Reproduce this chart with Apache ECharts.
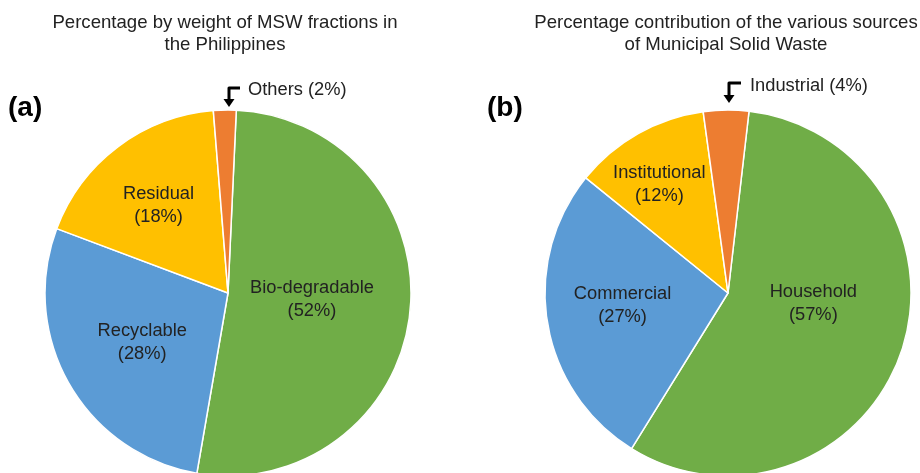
<!DOCTYPE html>
<html>
<head>
<meta charset="utf-8">
<script src="https://cdn.jsdelivr.net/npm/echarts@6/dist/echarts.min.js"></script>
<style>
html,body{margin:0;padding:0;background:#fff;}
#c{width:920px;height:473px;}
</style>
</head>
<body>
<div id="c"></div>
<script>
// ---- data ----
var namesA = ['Bio-degradable', 'Recyclable', 'Residual', 'Others'];
var valuesA = [52, 28, 18, 2];
var namesB = ['Household', 'Commercial', 'Institutional', 'Industrial'];
var valuesB = [57, 27, 12, 4];
var titleA = 'Percentage by weight of MSW fractions in\nthe Philippines';
var titleB = 'Percentage contribution of the various sources\nof Municipal Solid Waste';
var panelA = '(a)';
var panelB = '(b)';

// ---- style ----
var colors = ['#70AD47', '#5B9BD5', '#FFC000', '#ED7D31'];
var FONT = '"Liberation Sans", Arial, sans-serif';
var TXT = '#222';
var R = 183;
var cA = [228, 293], cB = [728, 293];
// label placement: radial distance ratio and angular shift (deg, clockwise)
var ratiosA = [0.46, 0.54, 0.61, 0.5];
var shiftA = [-2, 0, -1.5, 0];
var ratiosB = [0.47, 0.58, 0.70, 0.5];
var shiftB = [-12, 3, -3, 0];

function buildData(names, values) {
  return names.map(function (n, i) {
    var d = { name: n, value: values[i], itemStyle: { color: colors[i] } };
    if (i === names.length - 1) d.label = { show: false };
    return d;
  });
}
function mkLayout(center, ratios, shifts) {
  return function (p) {
    var r = p.labelRect;
    var lx = r.x + r.width / 2, ly = r.y + r.height / 2;
    var vx = lx - center[0], vy = ly - center[1];
    var a = Math.atan2(vy, vx) + shifts[p.dataIndex] * Math.PI / 180;
    var t = ratios[p.dataIndex] * R;
    var tx = center[0] + t * Math.cos(a), ty = center[1] + t * Math.sin(a);
    return { dx: tx - lx, dy: ty - ly };
  };
}
var labelCfg = {
  show: true, position: 'inside', formatter: '{b}\n({c}%)',
  color: TXT, fontFamily: FONT, fontSize: 18.3, lineHeight: 23, align: 'center'
};

var chart = echarts.init(document.getElementById('c'), null, { renderer: 'canvas' });
chart.setOption({
  animation: false,
  backgroundColor: '#fff',
  title: [
    { text: titleA, left: 225, top: 12, textAlign: 'center', padding: 0,
      textStyle: { fontFamily: FONT, fontSize: 18.6, fontWeight: 'normal', color: TXT, lineHeight: 22 } },
    { text: titleB, left: 726, top: 12, textAlign: 'center', padding: 0,
      textStyle: { fontFamily: FONT, fontSize: 18.6, fontWeight: 'normal', color: TXT, lineHeight: 22 } }
  ],
  series: [
    { type: 'pie', center: cA, radius: R, startAngle: 87.4, clockwise: true,
      silent: true, label: labelCfg, labelLine: { show: false },
      labelLayout: mkLayout(cA, ratiosA, shiftA),
      itemStyle: { borderColor: '#fff', borderWidth: 1.5 },
      data: buildData(namesA, valuesA) },
    { type: 'pie', center: cB, radius: R, startAngle: 83.4, clockwise: true,
      silent: true, label: labelCfg, labelLine: { show: false },
      labelLayout: mkLayout(cB, ratiosB, shiftB),
      itemStyle: { borderColor: '#fff', borderWidth: 1.5 },
      data: buildData(namesB, valuesB) }
  ],
  graphic: [
    { type: 'text', x: 8, y: 108, style: { text: panelA, font: 'bold 28px ' + FONT, fill: '#000', verticalAlign: 'middle' } },
    { type: 'text', x: 487, y: 108, style: { text: panelB, font: 'bold 28px ' + FONT, fill: '#000', verticalAlign: 'middle' } },
    // arrow + callout (a)
    { type: 'polyline', shape: { points: [[240, 88], [229, 88], [229, 100]] }, style: { stroke: '#000', lineWidth: 3, fill: null, lineJoin: 'round' } },
    { type: 'polygon', shape: { points: [[223.5, 99], [234.5, 99], [229, 107]] }, style: { fill: '#000' } },
    { type: 'text', x: 248, y: 90, style: { text: namesA[3] + ' (' + valuesA[3] + '%)', font: '18.3px ' + FONT, fill: TXT, verticalAlign: 'middle' } },
    // arrow + callout (b)
    { type: 'polyline', shape: { points: [[741, 83], [729, 83], [729, 96]] }, style: { stroke: '#000', lineWidth: 3, fill: null, lineJoin: 'round' } },
    { type: 'polygon', shape: { points: [[723.5, 95], [734.5, 95], [729, 103]] }, style: { fill: '#000' } },
    { type: 'text', x: 750, y: 86, style: { text: namesB[3] + ' (' + valuesB[3] + '%)', font: '18.3px ' + FONT, fill: TXT, verticalAlign: 'middle' } }
  ]
});
</script>
</body>
</html>
